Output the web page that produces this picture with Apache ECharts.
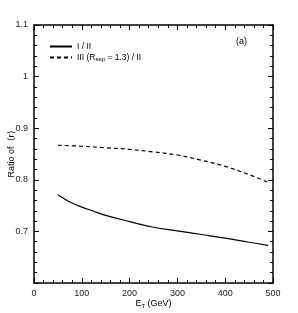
<!DOCTYPE html>
<html><head><meta charset="utf-8">
<script src="https://cdn.jsdelivr.net/npm/echarts@6/dist/echarts.min.js"></script>
<style>html,body{margin:0;padding:0;background:#fff}#c{width:298px;height:313px}</style>
</head><body><div id="c"></div>
<script>
const solidX = [50, 60, 75, 100, 125, 150, 200, 250, 300, 350, 400, 450, 490];
const solidY = [0.771, 0.765, 0.757, 0.747, 0.739, 0.731, 0.719, 0.708, 0.701, 0.694, 0.687, 0.679, 0.673];
const dashX = [50, 100, 150, 200, 250, 300, 350, 400, 450, 490];
const dashY = [0.867, 0.865, 0.862, 0.859, 0.854, 0.848, 0.838, 0.826, 0.810, 0.795];
const seriesNames = ['I / II', 'III (Rsep = 1.3) / II'];
const xTicks = [0, 100, 200, 300, 400, 500];
const yTicks = [0.6, 0.7, 0.8, 0.9, 1.0, 1.1];

const font = 'Liberation Sans, Arial, sans-serif';
const chart = echarts.init(document.getElementById('c'), null, {renderer: 'canvas'});
const axisCommon = {
  axisLine: {show: true, onZero: false, lineStyle: {color: '#000', width: 1.5}},
  axisTick: {show: true, inside: true, length: 5, lineStyle: {color: '#000', width: 1}},
  minorTick: {show: true, splitNumber: 5, length: 3, lineStyle: {color: '#000', width: 1}},
  splitLine: {show: false}
};
chart.setOption({
  animation: false,
  grid: {left: 34, top: 25, right: 25, bottom: 30, containLabel: false, outerBoundsMode: 'none'},
  legend: {
    left: 44, top: 37, orient: 'vertical', itemGap: 2, itemWidth: 22, itemHeight: 8,
    data: seriesNames,
    itemStyle: {opacity: 0},
    textStyle: {fontFamily: font, fontSize: 8.5, color: '#000',
      rich: {sub: {fontSize: 6, verticalAlign: 'bottom', padding: [4, 0, 0, 0], fontFamily: font, color: '#000'}}},
    formatter: n => n.replace('Rsep', 'R{sub|sep}')
  },
  xAxis: [
    Object.assign({type: 'value', min: xTicks[0], max: xTicks[xTicks.length - 1], interval: 100, position: 'bottom',
      name: 'E{sub|T} (GeV)', nameLocation: 'middle', nameGap: 15, nameMoveOverlap: false,
      nameTextStyle: {fontFamily: font, fontSize: 9, color: '#000',
        rich: {sub: {fontSize: 6, verticalAlign: 'bottom', padding: [5, 0, 0, 0], fontFamily: font, color: '#000'}}},
      axisLabel: {fontFamily: font, fontSize: 9, color: '#222', margin: 6}}, axisCommon),
    Object.assign({type: 'value', min: xTicks[0], max: xTicks[xTicks.length - 1], interval: 100, position: 'top',
      axisLabel: {show: false}}, axisCommon)
  ],
  yAxis: [
    Object.assign({type: 'value', min: yTicks[0], max: yTicks[yTicks.length - 1], interval: 0.1, position: 'left',
      name: 'Ratio of  ⟨r⟩', nameLocation: 'middle', nameGap: 18, nameMoveOverlap: false,
      nameTextStyle: {fontFamily: font, fontSize: 9, color: '#000'},
      axisLabel: {fontFamily: font, fontSize: 9, color: '#222', margin: 6,
        formatter: v => v < yTicks[0] + 0.05 ? '' : String(+v.toFixed(1))}}, axisCommon),
    Object.assign({type: 'value', min: yTicks[0], max: yTicks[yTicks.length - 1], interval: 0.1, position: 'right',
      axisLabel: {show: false}}, axisCommon)
  ],
  graphic: [{type: 'text', left: 236, top: 37, style: {text: '(a)', font: '9px ' + font, fill: '#000'}}],
  series: [
    {name: seriesNames[0], type: 'line', symbol: 'none', smooth: 0.4,
      lineStyle: {color: '#000', width: 1.2, type: 'solid'}, itemStyle: {color: '#000'},
      data: solidX.map((x, i) => [x, solidY[i]])},
    {name: seriesNames[1], type: 'line', symbol: 'none', smooth: 0.4,
      lineStyle: {color: '#000', width: 1.2, type: [4, 3]}, itemStyle: {color: '#000'},
      data: dashX.map((x, i) => [x, dashY[i]])}
  ]
});
</script></body></html>
